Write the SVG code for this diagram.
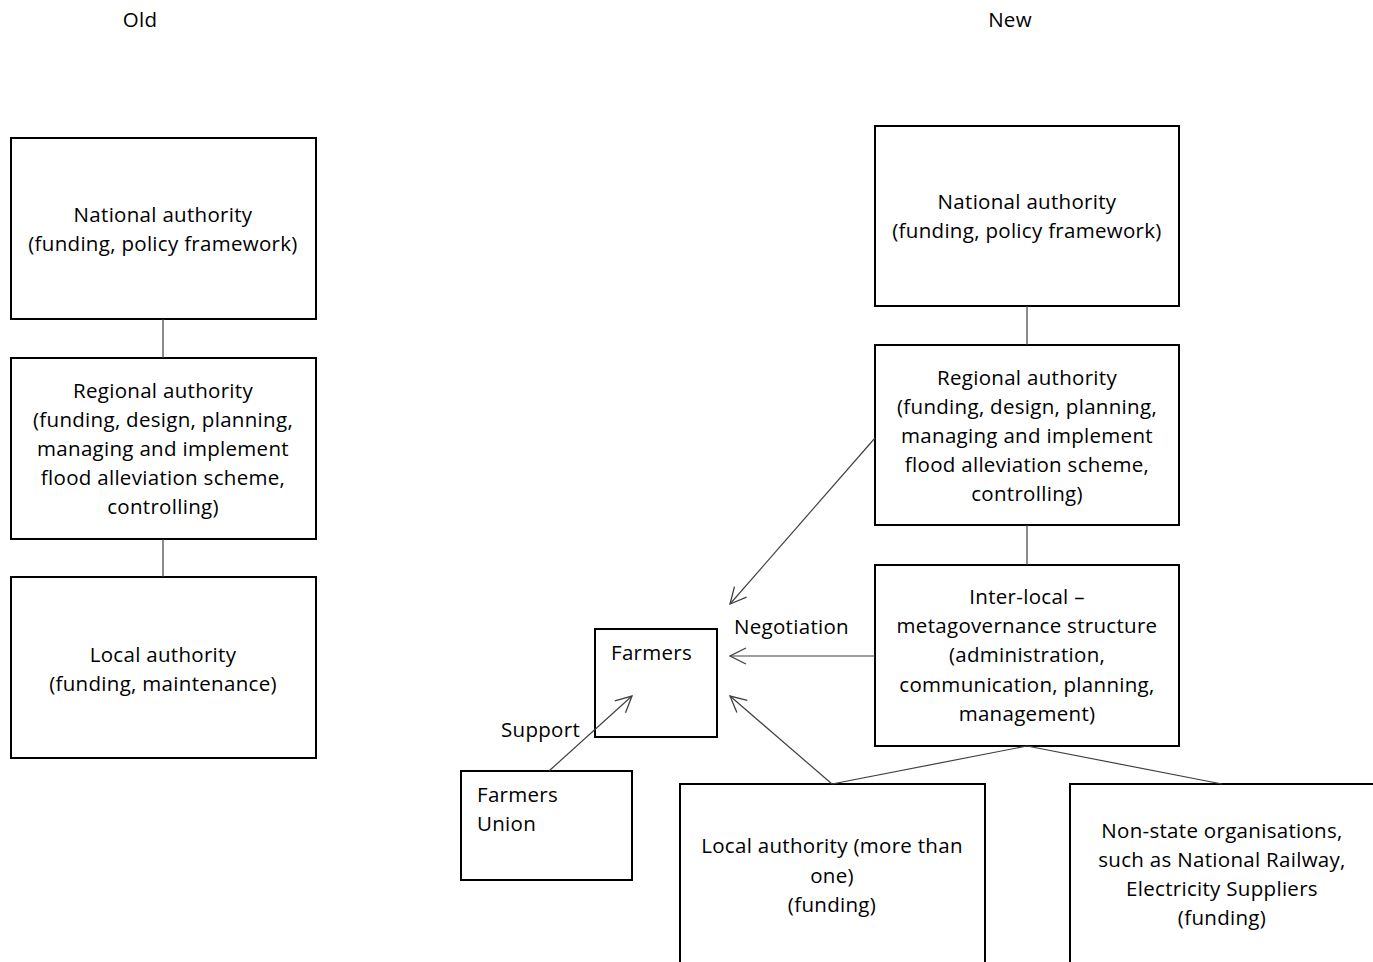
<svg xmlns="http://www.w3.org/2000/svg" width="1373" height="962" viewBox="0 0 1373 962">
  <style>
    .box { fill: #ffffff; stroke: #000000; stroke-width: 2; }
    .t { font-family: "Open Sans", "Liberation Sans", sans-serif; font-size: 20.5px; letter-spacing: 0.3px; fill: #000000; }
    .c { text-anchor: middle; }
    .link { stroke: #404040; stroke-width: 1.2; fill: none; }
    .arrow { stroke: #404040; stroke-width: 1.2; fill: none; marker-end: url(#open); }
  </style>
  <defs>
    <marker id="open" viewBox="0 0 20 20" refX="19" refY="10" markerWidth="20" markerHeight="20" markerUnits="userSpaceOnUse" orient="auto">
      <path d="M3,2 L19,10 L3,18" fill="none" stroke="#404040" stroke-width="1.3"/>
    </marker>
  </defs>

  <rect width="1373" height="962" fill="#ffffff"/>

  <!-- column headings -->
  <text class="t c" x="140" y="27">Old</text>
  <text class="t c" x="1010" y="27">New</text>

  <!-- Old structure -->
  <g id="old-national">
    <rect class="box" x="11" y="138" width="305" height="181"/>
    <text class="t c" x="163" y="222">National authority</text>
    <text class="t c" x="163" y="251">(funding, policy framework)</text>
  </g>
  <g id="old-regional">
    <rect class="box" x="11" y="358" width="305" height="181"/>
    <text class="t c" x="163" y="398">Regional authority</text>
    <text class="t c" x="163" y="427">(funding, design, planning,</text>
    <text class="t c" x="163" y="456">managing and implement</text>
    <text class="t c" x="163" y="485">flood alleviation scheme,</text>
    <text class="t c" x="163" y="514">controlling)</text>
  </g>
  <g id="old-local">
    <rect class="box" x="11" y="577" width="305" height="181"/>
    <text class="t c" x="163" y="662">Local authority</text>
    <text class="t c" x="163" y="691">(funding, maintenance)</text>
  </g>

  <!-- New structure -->
  <g id="new-national">
    <rect class="box" x="875" y="126" width="304" height="180"/>
    <text class="t c" x="1027" y="209">National authority</text>
    <text class="t c" x="1027" y="238">(funding, policy framework)</text>
  </g>
  <g id="new-regional">
    <rect class="box" x="875" y="345" width="304" height="180"/>
    <text class="t c" x="1027" y="385">Regional authority</text>
    <text class="t c" x="1027" y="414">(funding, design, planning,</text>
    <text class="t c" x="1027" y="443">managing and implement</text>
    <text class="t c" x="1027" y="472">flood alleviation scheme,</text>
    <text class="t c" x="1027" y="501">controlling)</text>
  </g>
  <g id="inter-local">
    <rect class="box" x="875" y="565" width="304" height="181"/>
    <text class="t c" x="1027" y="604">Inter-local –</text>
    <text class="t c" x="1027" y="633">metagovernance structure</text>
    <text class="t c" x="1027" y="662">(administration,</text>
    <text class="t c" x="1027" y="692">communication, planning,</text>
    <text class="t c" x="1027" y="721">management)</text>
  </g>
  <g id="farmers">
    <rect class="box" x="595" y="629" width="122" height="108"/>
    <text class="t" x="611" y="660">Farmers</text>
  </g>
  <g id="farmers-union">
    <rect class="box" x="461" y="771" width="171" height="109"/>
    <text class="t" x="477" y="802">Farmers</text>
    <text class="t" x="477" y="831">Union</text>
  </g>
  <g id="new-local">
    <rect class="box" x="680" y="784" width="305" height="190"/>
    <text class="t c" x="832" y="853">Local authority (more than</text>
    <text class="t c" x="832" y="883">one)</text>
    <text class="t c" x="832" y="912">(funding)</text>
  </g>
  <g id="non-state">
    <rect class="box" x="1070" y="784" width="310" height="190"/>
    <text class="t c" x="1222" y="838">Non-state organisations,</text>
    <text class="t c" x="1222" y="867">such as National Railway,</text>
    <text class="t c" x="1222" y="896">Electricity Suppliers</text>
    <text class="t c" x="1222" y="925">(funding)</text>
  </g>

  <!-- connectors, drawn over the boxes so the support arrow shows inside Farmers -->
  <g id="connectors">
    <line class="link" x1="163" y1="319" x2="163" y2="358"/>
    <line class="link" x1="163" y1="539" x2="163" y2="577"/>
    <line class="link" x1="1027" y1="306" x2="1027" y2="345"/>
    <line class="link" x1="1027" y1="525" x2="1027" y2="565"/>
    <line class="link" x1="1027" y1="746" x2="832" y2="784"/>
    <line class="link" x1="1027" y1="746" x2="1222" y2="784"/>
    <line class="arrow" x1="875" y1="438" x2="730" y2="604"/>
    <line class="arrow" x1="875" y1="656" x2="730" y2="656"/>
    <line class="arrow" x1="832" y1="784" x2="730" y2="696"/>
    <line class="arrow" x1="549" y1="771" x2="632" y2="696"/>
  </g>

  <!-- edge labels -->
  <text class="t" x="734" y="634">Negotiation</text>
  <text class="t" x="501" y="737">Support</text>
</svg>
